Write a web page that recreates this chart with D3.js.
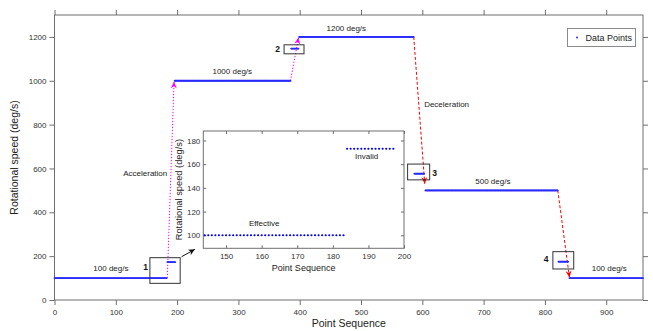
<!DOCTYPE html>
<html>
<head>
<meta charset="utf-8">
<script src="https://cdn.jsdelivr.net/npm/d3@7"></script>
<style>
  body { margin: 0; background: #fff; }
  svg { display: block; font-family: 'Liberation Sans', Arial, sans-serif; }
</style>
</head>
<body>
<div id="chart"></div>
<script>
// constant-speed segments: point index range and speed (deg/s)
const segStart = [0, 184, 196, 386, 399, 587, 605, 822, 840]
const segEnd = [183, 197, 385, 398, 586, 603, 821, 838, 960]
const segSpeed = [100, 173, 1000, 1147, 1200, 576, 500, 175, 100]

const xTicks = [0, 100, 200, 300, 400, 500, 600, 700, 800, 900]
const yTicks = [0, 200, 400, 600, 800, 1000, 1200]
const insetXTicks = [150, 160, 170, 180, 190, 200]
const insetYTicks = [100, 120, 140, 160, 180]

// zoom boxes around the transition points
const boxName = ['1', '2', '3', '4']
const boxX0 = [155.6, 374.5, 576, 813]
const boxX1 = [205, 407, 612, 847]
const boxY0 = [76, 1123, 548, 141.5]
const boxY1 = [193, 1164, 620, 220.5]
const boxLabelX = [148.6, 364, 620, 802]
const boxLabelY = [137, 1131, 566, 173]

// transition arrows
const arrowFromX = [184, 385, 586, 821]
const arrowFromY = [100, 1000, 1200, 500]
const arrowToX = [195, 398, 604, 840]
const arrowToY = [995, 1197, 530, 103]
const arrowKind = ['acc', 'acc', 'dec', 'dec']

const labelText = ['100 deg/s', '1000 deg/s', '1200 deg/s', 'Deceleration', '500 deg/s', '100 deg/s', 'Acceleration']
const labelX = [92, 290, 476, 603, 715, 905, 148]
const labelY = [132, 1031, 1227, 880, 529, 132, 567]
const labelAnchor = ['middle', 'middle', 'middle', 'start', 'middle', 'middle', 'middle']

const insetLabelText = ['Effective', 'Invalid']
const insetLabelX = [160.7, 189.5]
const insetLabelY = [107.8, 164.5]

const width = 653
const height = 331

const points = []
segStart.forEach((s, i) => {
  d3.range(s, segEnd[i] + 1).forEach(k => points.push({ x: k, y: segSpeed[i] }))
})

const svg = d3.select('#chart').append('svg')
  .attr('width', width)
  .attr('height', height)

const x = d3.scaleLinear().domain([0, 960]).range([54.5, 643])
const y = d3.scaleLinear().domain([0, 1300]).range([300, 15])

const axisColor = '#6e6e6e'
const textColor = '#333'
const fmt = d3.format('d')

const defs = svg.append('defs')
function head (id, color) {
  defs.append('marker')
    .attr('id', id)
    .attr('markerUnits', 'userSpaceOnUse')
    .attr('viewBox', '-7 -4 8 8')
    .attr('refX', 0)
    .attr('refY', 0)
    .attr('markerWidth', 8)
    .attr('markerHeight', 8)
    .attr('orient', 'auto')
    .append('path')
    .attr('d', 'M0,0 L-6.5,-3 L-4.5,0 L-6.5,3 Z')
    .attr('fill', color)
}
head('head-acc', '#ff00ff')
head('head-dec', '#ff0000')
head('head-blk', '#111')

// main axes
svg.append('g')
  .attr('transform', `translate(0,${y(0)})`)
  .call(d3.axisBottom(x).tickValues(xTicks).tickFormat(fmt).tickSize(5).tickPadding(4).tickSizeOuter(0))
svg.append('g')
  .attr('transform', `translate(0,${y(1300)})`)
  .call(d3.axisTop(x).tickValues(xTicks).tickSize(5).tickFormat('').tickSizeOuter(0))
svg.append('g')
  .attr('transform', `translate(${x(0)},0)`)
  .call(d3.axisLeft(y).tickValues(yTicks).tickFormat(fmt).tickSize(5).tickPadding(3).tickSizeOuter(0))
svg.append('g')
  .attr('transform', `translate(${x(960)},0)`)
  .call(d3.axisRight(y).tickValues(yTicks).tickSize(5).tickFormat('').tickSizeOuter(0))

svg.selectAll('.domain').remove()
svg.selectAll('.tick line').attr('stroke', axisColor)
svg.selectAll('.tick text').attr('fill', textColor).style('font-size', '8px').style('font-family', null)

svg.append('rect')
  .attr('x', x(0)).attr('y', y(1300))
  .attr('width', x(960) - x(0)).attr('height', y(0) - y(1300))
  .attr('fill', 'none').attr('stroke', axisColor)

svg.append('text')
  .attr('x', x(480)).attr('y', 326.5)
  .attr('text-anchor', 'middle')
  .attr('fill', '#222')
  .style('font-size', '10.5px')
  .text('Point Sequence')

svg.append('text')
  .attr('transform', `translate(18,${y(650)}) rotate(-90)`)
  .attr('text-anchor', 'middle')
  .attr('fill', '#222')
  .style('font-size', '10.5px')
  .text('Rotational speed (deg/s)')

// arrows
svg.append('g').selectAll('line')
  .data(arrowFromX)
  .join('line')
  .attr('x1', (d, i) => x(d))
  .attr('y1', (d, i) => y(arrowFromY[i]))
  .attr('x2', (d, i) => x(arrowToX[i]))
  .attr('y2', (d, i) => y(arrowToY[i]))
  .attr('stroke', (d, i) => arrowKind[i] === 'acc' ? '#ff00ff' : '#ff0000')
  .attr('stroke-dasharray', (d, i) => arrowKind[i] === 'acc' ? '1.3,1.7' : '3,2')
  .attr('stroke-width', 1)
  .attr('marker-end', (d, i) => `url(#head-${arrowKind[i]})`)

// data points
svg.append('g')
  .selectAll('circle')
  .data(points)
  .join('circle')
  .attr('cx', d => x(d.x))
  .attr('cy', d => y(d.y))
  .attr('r', 0.9)
  .attr('fill', '#2a2aff')

// zoom boxes
svg.append('g').selectAll('rect')
  .data(boxName)
  .join('rect')
  .attr('x', (d, i) => x(boxX0[i]))
  .attr('y', (d, i) => y(boxY1[i]))
  .attr('width', (d, i) => x(boxX1[i]) - x(boxX0[i]))
  .attr('height', (d, i) => y(boxY0[i]) - y(boxY1[i]))
  .attr('fill', 'none')
  .attr('stroke', '#333')

svg.append('g').selectAll('text')
  .data(boxName)
  .join('text')
  .attr('x', (d, i) => x(boxLabelX[i]))
  .attr('y', (d, i) => y(boxLabelY[i]))
  .attr('text-anchor', 'middle')
  .attr('font-weight', 'bold')
  .attr('fill', '#111')
  .style('font-size', '8.5px')
  .text(d => d)

svg.append('g').selectAll('text')
  .data(labelText)
  .join('text')
  .attr('x', (d, i) => x(labelX[i]))
  .attr('y', (d, i) => y(labelY[i]))
  .attr('text-anchor', (d, i) => labelAnchor[i])
  .attr('fill', '#222')
  .style('font-size', '8px')
  .text(d => d)

// pointer from box 1 to the inset
svg.append('line')
  .attr('x1', x(207.3)).attr('y1', y(197.5))
  .attr('x2', x(229)).attr('y2', y(231))
  .attr('stroke', '#111')
  .attr('marker-end', 'url(#head-blk)')

// legend
const legend = svg.append('g')
legend.append('rect')
  .attr('x', 567.5).attr('y', 28.5)
  .attr('width', 68).attr('height', 18)
  .attr('fill', '#fff').attr('stroke', '#8a8a8a')
legend.append('circle')
  .attr('cx', 577).attr('cy', 37.5).attr('r', 1)
  .attr('fill', '#2a2aff')
legend.append('text')
  .attr('x', 585.5).attr('y', 40.8)
  .attr('fill', '#222')
  .style('font-size', '9px')
  .text('Data Points')

// inset: close-up of the points around transition 1
const ix = d3.scaleLinear().domain([143.6, 200]).range([203.3, 404])
const iy = d3.scaleLinear().domain([89, 188]).range([248.3, 131])
const inset = svg.append('g')

inset.append('rect')
  .attr('x', ix(143.6)).attr('y', iy(188))
  .attr('width', ix(200) - ix(143.6)).attr('height', iy(89) - iy(188))
  .attr('fill', '#fff')

inset.append('g')
  .attr('transform', `translate(0,${iy(89)})`)
  .call(d3.axisBottom(ix).tickValues(insetXTicks).tickFormat(fmt).tickSize(-3).tickPadding(5).tickSizeOuter(0))
inset.append('g')
  .attr('transform', `translate(0,${iy(188)})`)
  .call(d3.axisTop(ix).tickValues(insetXTicks).tickSize(-3).tickFormat('').tickSizeOuter(0))
inset.append('g')
  .attr('transform', `translate(${ix(143.6)},0)`)
  .call(d3.axisLeft(iy).tickValues(insetYTicks).tickFormat(fmt).tickSize(-3).tickPadding(3).tickSizeOuter(0))
inset.append('g')
  .attr('transform', `translate(${ix(200)},0)`)
  .call(d3.axisRight(iy).tickValues(insetYTicks).tickSize(-3).tickFormat('').tickSizeOuter(0))

inset.selectAll('.domain').remove()
inset.selectAll('.tick line').attr('stroke', axisColor)
inset.selectAll('.tick text').attr('fill', textColor).style('font-size', '8px').style('font-family', null)

inset.append('rect')
  .attr('x', ix(143.6)).attr('y', iy(188))
  .attr('width', ix(200) - ix(143.6)).attr('height', iy(89) - iy(188))
  .attr('fill', 'none').attr('stroke', axisColor)

inset.append('g')
  .selectAll('circle')
  .data(points.filter(d => d.x >= 144 && d.x <= 200 && d.y <= 188))
  .join('circle')
  .attr('cx', d => ix(d.x))
  .attr('cy', d => iy(d.y))
  .attr('r', 1.1)
  .attr('fill', '#0000f0')

inset.append('g').selectAll('text')
  .data(insetLabelText)
  .join('text')
  .attr('x', (d, i) => ix(insetLabelX[i]))
  .attr('y', (d, i) => iy(insetLabelY[i]))
  .attr('text-anchor', 'middle')
  .attr('fill', '#222')
  .style('font-size', '8px')
  .text(d => d)

inset.append('text')
  .attr('x', ix(171.8)).attr('y', 271)
  .attr('text-anchor', 'middle')
  .attr('fill', '#222')
  .style('font-size', '9px')
  .text('Point Sequence')

inset.append('text')
  .attr('transform', `translate(182,${iy(138.5)}) rotate(-90)`)
  .attr('text-anchor', 'middle')
  .attr('fill', '#222')
  .style('font-size', '9.3px')
  .text('Rotational speed (deg/s)')
</script>
</body>
</html>
